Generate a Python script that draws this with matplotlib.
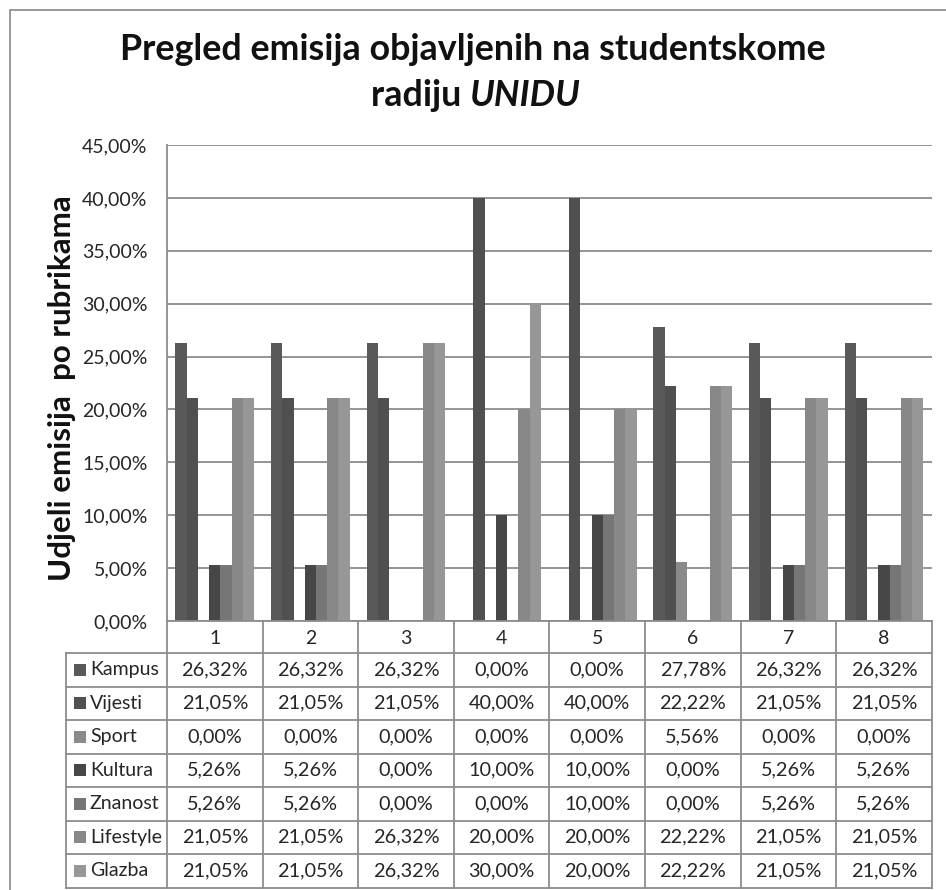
import matplotlib
matplotlib.use("Agg")
import matplotlib.pyplot as plt
from matplotlib.patches import Rectangle
import numpy as np

# ---------------- data ----------------
categories = ["1", "2", "3", "4", "5", "6", "7", "8"]
series_names = ["Kampus", "Vijesti", "Sport", "Kultura", "Znanost", "Lifestyle", "Glazba"]
kampus    = [26.32, 26.32, 26.32, 0.00, 0.00, 27.78, 26.32, 26.32]
vijesti   = [21.05, 21.05, 21.05, 40.00, 40.00, 22.22, 21.05, 21.05]
sport     = [0.00, 0.00, 0.00, 0.00, 0.00, 5.56, 0.00, 0.00]
kultura   = [5.26, 5.26, 0.00, 10.00, 10.00, 0.00, 5.26, 5.26]
znanost   = [5.26, 5.26, 0.00, 0.00, 10.00, 0.00, 5.26, 5.26]
lifestyle = [21.05, 21.05, 26.32, 20.00, 20.00, 22.22, 21.05, 21.05]
glazba    = [21.05, 21.05, 26.32, 30.00, 20.00, 22.22, 21.05, 21.05]
series_values = [kampus, vijesti, sport, kultura, znanost, lifestyle, glazba]
y_ticks = [0, 5, 10, 15, 20, 25, 30, 35, 40, 45]

title_line1 = "Pregled emisija objavljenih na studentskome"
title_line2a = "radiju "
title_line2b = "UNIDU"
y_label = "Udjeli emisija  po rubrikama"

colors = ["#595959", "#505050", "#8a8a8a", "#474747", "#767676", "#888888", "#979797"]
grid_c = "#8c8c8c"
txt_c = "#262626"

FONT = "Lato"
plt.rcParams['font.family'] = [FONT, 'DejaVu Sans']

W, H = 946, 890
fig = plt.figure(figsize=(W / 100, H / 100), dpi=100)

def fx(x):
    return x / W

def fy(y):
    return 1 - y / H

# outer frame (top/left visible)
fig.add_artist(Rectangle((fx(9.5), fy(900)), fx(960) - fx(9.5), fy(9.5) - fy(900),
                         transform=fig.transFigure, fill=False, edgecolor="#888888", lw=1.2))

# ---------------- main plot ----------------
L, R, T, B = 167, 931.7, 145, 621
ax = fig.add_axes([fx(L), fy(B), fx(R) - fx(L), fy(T) - fy(B)])
ncat = len(categories)
nser = len(series_names)
w = 1.0 / (nser + 1.5)
x0 = np.arange(ncat)
for k, (vals, c) in enumerate(zip(series_values, colors)):
    ax.bar(x0 + 0.75 * w + k * w, vals, width=w, align='edge', color=c, linewidth=0, zorder=3)

ax.set_xlim(0, ncat)
ax.set_ylim(0, 45)
ax.set_yticks(y_ticks)
ax.set_yticklabels([("%.2f%%" % v).replace('.', ',') for v in y_ticks], fontsize=14, color=txt_c)
ax.tick_params(axis='y', length=0, pad=14)
ax.set_xticks([])
ax.grid(axis='y', color=grid_c, lw=1.3, zorder=0)
for s in ["top", "right", "bottom"]:
    ax.spines[s].set_visible(False)
ax.spines["left"].set_color(grid_c)
ax.spines["left"].set_linewidth(1.3)

# ---------------- data table ----------------
TL = 66
unit = (R - L) / ncat
xl = -(L - TL) / unit
TB = 887.5
tab = fig.add_axes([fx(TL), fy(TB), fx(R) - fx(TL), fy(B) - fy(TB)])
tab.set_xlim(xl, ncat)
hdr = 32.0
rowh = (TB - B - hdr) / nser
tab.set_ylim(TB - B, 0)
tab.axis('off')
lc = dict(color=grid_c, lw=1.3, clip_on=False)
tab.plot([0, ncat], [0, 0], **lc)
for i in range(ncat + 1):
    tab.plot([i, i], [0, TB - B], **lc)
tab.plot([xl, xl], [hdr, TB - B], **lc)
for r in range(nser + 1):
    y = hdr + r * rowh
    tab.plot([xl, ncat], [y, y], **lc)
for i, cat in enumerate(categories):
    tab.text(i + 0.5, hdr / 2 + 1, cat, ha='center', va='center', fontsize=14, color=txt_c)
for r, (name, vals, c) in enumerate(zip(series_names, series_values, colors)):
    yc = hdr + (r + 0.5) * rowh
    sq = 12 / unit
    tab.add_patch(Rectangle((xl + 8 / unit, yc - 6), sq, 12, color=c, lw=0, clip_on=False))
    tab.text(xl + 24 / unit, yc, name, ha='left', va='center', fontsize=14, color=txt_c)
    for i, v in enumerate(vals):
        tab.text(i + 0.5, yc, ("%.2f%%" % v).replace('.', ','), ha='center', va='center',
                 fontsize=14.3, color=txt_c)

# ---------------- titles ----------------
fig.text(fx(472.5), fy(50), title_line1, ha='center', va='center', fontsize=25.8,
         fontweight='bold', color="#111111")
renderer = fig.canvas.get_renderer()
ta = fig.text(0, fy(95), title_line2a, ha='left', va='center', fontsize=25.8, fontweight='bold', color="#111111")
tb = fig.text(0, fy(95), title_line2b, ha='left', va='center', fontsize=25.8, fontweight='bold',
              style='italic', color="#111111")
wa = ta.get_window_extent(renderer).width
wb = tb.get_window_extent(renderer).width
start = 476 - (wa + wb) / 2
ta.set_x(fx(start))
tb.set_x(fx(start + wa))

fig.text(fx(62), fy(388), y_label, ha='center', va='center', rotation=90, fontsize=22.5,
         fontweight='bold', color="#111111")

fig.savefig("out.png", dpi=100)
